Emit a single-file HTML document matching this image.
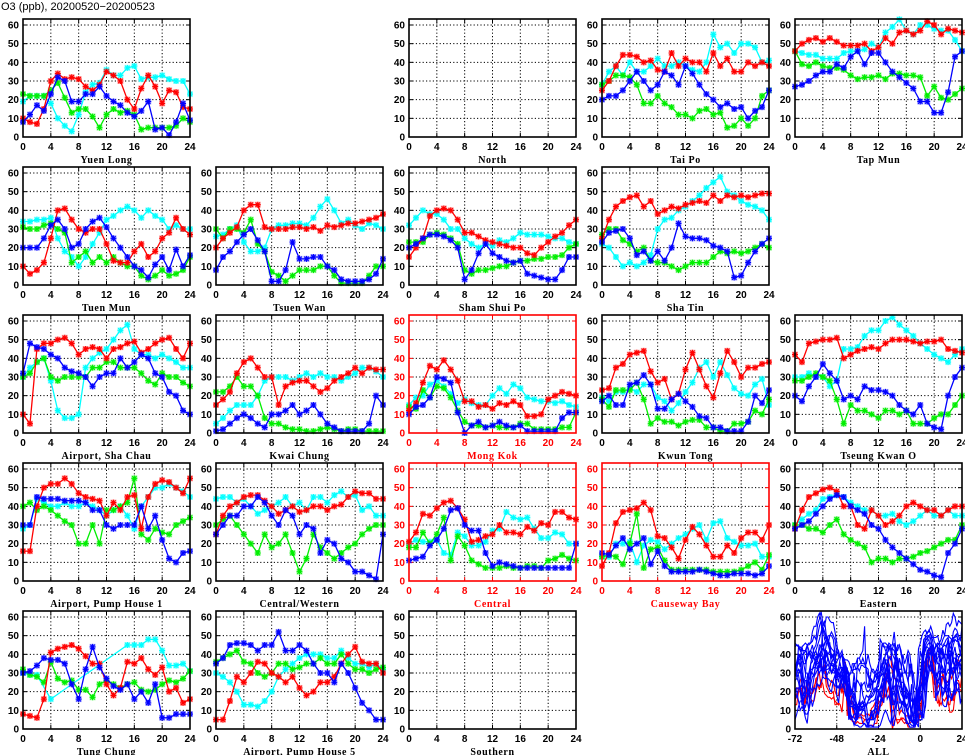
<!DOCTYPE html>
<html><head><meta charset="utf-8"><style>
html,body{margin:0;padding:0;background:#fff;}
svg{display:block;}
text{font-family:"Liberation Sans",sans-serif;}
.tk{font-size:10px;font-weight:bold;fill:#000;}
.ttl{font-family:"Liberation Serif",serif;font-size:10px;font-weight:bold;letter-spacing:0.6px;}
</style></head><body>
<svg id="c" width="965" height="755" viewBox="0 0 965 755" xmlns="http://www.w3.org/2000/svg">
<text x="1" y="10" style="font-size:11px;">O3 (ppb), 20200520−20200523</text>
</svg>
<script>
const stationNames = ["Yuen Long","North","Tai Po","Tap Mun","Tuen Mun","Tsuen Wan","Sham Shui Po","Sha Tin","Airport, Sha Chau","Kwai Chung","Mong Kok","Kwun Tong","Tseung Kwan O","Airport, Pump House 1","Central/Western","Central","Causeway Bay","Eastern","Tung Chung","Airport, Pump House 5","Southern"];
const stationCol = [0,2,3,4,0,1,2,3,0,1,2,3,4,0,1,2,3,4,0,1,2];
const stationRow = [0,0,0,0,1,1,1,1,2,2,2,2,2,3,3,3,3,3,4,4,4];
const roadside = ["Mong Kok","Central","Causeway Bay"];
const yTicks = [0,10,20,30,40,50,60];
const xTicks = [0,4,8,12,16,20,24];
const allXTicks = [-72,-48,-24,0,24];
const seriesColors = ["#00ffff","#00ee00","#ff0000","#0000ff"];
// series order per station: cyan, green, red, blue
const cyanData = {
"Yuen Long":[19,22,22,22,18,10,6,3,12,24,28,29,36,33,33,37,38,31,32,32,33,31,30,30,23],
"Tai Po":[28,35,38,33,40,35,35,38,42,38,38,40,38,36,35,40,55,48,50,45,50,50,48,40,41],
"Tap Mun":[46,45,44,44,42,42,42,45,46,46,47,50,48,56,59,63,57,55,60,60,58,57,57,52,46],
"Tuen Mun":[34,34,35,35,36,25,18,15,10,15,22,28,35,37,40,42,40,36,40,37,35,30,32,30,30],
"Tsuen Wan":[26,27,30,32,23,18,18,20,30,32,32,33,33,32,36,42,46,40,33,35,32,30,33,32,30],
"Sham Shui Po":[32,36,40,38,38,35,30,30,25,22,20,22,21,24,23,25,28,27,27,27,26,25,25,23,22],
"Sha Tin":[22,20,15,10,12,10,12,16,30,35,36,40,42,45,48,52,55,58,50,48,45,43,42,40,35],
"Airport, Sha Chau":[30,35,38,40,28,12,8,8,10,35,40,43,45,50,55,58,45,42,42,40,42,40,38,35,35],
"Kwai Chung":[5,8,12,15,15,15,20,28,30,30,30,28,30,32,30,32,30,30,28,30,32,35,35,33,30],
"Mong Kok":[15,19,20,26,28,25,21,16,18,16,15,15,20,24,21,26,24,19,18,17,17,16,17,15,14],
"Kwun Tong":[19,17,22,22,24,22,26,26,19,17,12,16,22,27,35,38,30,38,31,24,21,20,26,29,15],
"Tseung Kwan O":[30,30,32,30,30,25,28,45,45,46,52,55,55,60,62,58,55,52,48,45,42,40,38,42,45],
"Airport, Pump House 1":[28,30,44,42,40,40,42,40,40,42,40,38,35,38,40,35,28,40,45,50,50,52,50,48,45],
"Central/Western":[44,45,45,42,44,40,36,38,40,42,45,40,42,38,45,45,42,46,48,45,46,38,40,35,35],
"Central":[20,22,21,21,22,15,14,26,24,19,19,21,27,28,37,34,33,34,28,23,23,26,25,20,20],
"Causeway Bay":[13,13,20,20,21,10,19,22,21,17,20,23,25,28,30,22,31,32,23,21,19,19,20,13,13],
"Eastern":[30,33,36,38,44,45,46,45,42,40,38,38,35,35,36,32,30,32,35,38,35,35,38,35,35],
"Tung Chung":[30,29,29,null,16,null,null,null,null,null,null,null,null,null,null,45,45,45,48,48,42,34,34,35,31],
"Airport, Pump House 5":[30,28,25,20,13,13,12,15,20,28,32,35,38,40,40,40,38,38,42,38,35,35,33,35,32]
};
const greenData = {
"Yuen Long":[23,22,22,22,25,29,21,13,15,15,11,5,12,15,13,14,12,4,5,5,5,5,6,10,8],
"Tai Po":[28,30,33,33,32,28,18,18,22,18,16,12,12,10,14,15,12,13,5,6,10,6,10,22,25],
"Tap Mun":[46,39,38,40,38,37,37,36,33,31,32,32,33,31,34,34,33,33,32,22,27,21,20,23,26],
"Tuen Mun":[31,30,30,32,33,30,28,12,15,18,12,15,12,15,12,10,10,5,3,5,8,5,6,8,15],
"Tsuen Wan":[30,25,30,30,28,35,22,18,7,5,2,5,8,8,8,10,10,5,1,1,1,1,5,10,10],
"Sham Shui Po":[23,23,23,27,28,27,25,22,8,6,8,8,9,10,10,12,13,13,14,14,15,15,16,20,22],
"Sha Tin":[27,30,30,24,22,18,20,13,12,12,10,8,10,12,12,12,15,18,17,18,17,18,20,22,20],
"Airport, Sha Chau":[30,32,38,40,30,28,30,30,30,30,35,35,38,38,35,35,35,32,28,26,32,30,30,27,25],
"Kwai Chung":[22,22,25,30,25,25,20,8,5,5,3,2,2,1,1,2,3,2,1,2,2,1,1,1,1],
"Mong Kok":[14,13,23,19,25,24,19,12,6,4,4,3,4,3,3,3,5,5,2,2,2,2,3,3,11],
"Kwun Tong":[18,14,23,23,23,27,18,5,8,6,6,4,6,7,7,3,3,1,1,5,5,6,12,10,18],
"Tseung Kwan O":[28,28,30,32,30,28,18,5,15,12,12,10,8,12,12,10,12,5,5,5,8,10,10,15,20],
"Airport, Pump House 1":[40,42,38,40,38,35,32,30,20,20,30,20,38,38,40,42,55,25,22,28,26,25,30,32,34],
"Central/Western":[30,33,35,30,25,20,15,25,18,20,25,15,5,12,25,18,15,12,15,18,20,25,28,30,30],
"Central":[18,18,26,20,25,34,11,24,19,11,9,7,7,7,8,7,7,8,8,7,11,12,14,12,11],
"Causeway Bay":[13,14,13,9,20,36,7,17,18,11,6,6,6,6,6,6,5,5,5,5,6,8,10,6,14],
"Eastern":[30,30,28,28,26,30,33,25,22,20,18,10,12,12,10,12,12,13,15,16,18,20,22,22,30],
"Tung Chung":[32,29,28,25,36,27,25,26,21,21,17,24,26,24,22,24,25,21,20,21,24,26,25,27,31],
"Airport, Pump House 5":[36,38,40,42,36,35,30,28,30,35,35,32,33,35,35,38,35,35,40,35,32,32,30,32,33]
};
const redData = {
"Yuen Long":[10,8,7,15,30,34,31,32,31,27,25,28,35,33,30,20,15,26,33,27,18,25,24,16,15],
"Tai Po":[25,30,38,44,44,43,40,41,36,35,45,38,42,40,40,35,45,38,42,35,35,40,38,40,38],
"Tap Mun":[46,50,52,53,51,53,51,49,49,49,50,46,48,53,50,56,57,55,57,62,60,55,58,57,56],
"Tuen Mun":[10,6,8,12,25,40,41,35,30,28,30,30,22,13,12,12,18,22,15,18,25,28,36,30,27],
"Tsuen Wan":[20,25,28,31,40,43,43,31,30,30,30,31,31,30,31,29,32,31,32,33,33,34,35,36,38],
"Sham Shui Po":[15,20,25,37,40,41,40,35,28,28,26,24,23,22,21,20,20,17,16,20,23,26,28,32,35],
"Sha Tin":[25,35,42,45,47,48,42,45,38,40,42,41,43,44,45,44,48,45,48,47,48,47,48,49,49],
"Airport, Sha Chau":[10,5,45,48,48,50,51,48,42,45,46,45,40,45,46,48,49,43,45,48,50,51,45,40,48],
"Kwai Chung":[15,18,22,32,38,40,35,30,30,15,25,27,28,28,25,22,24,28,30,32,35,32,35,34,34],
"Mong Kok":[12,16,27,36,34,39,34,28,17,17,14,15,13,16,15,17,15,9,9,10,18,20,22,21,20],
"Kwun Tong":[23,24,35,37,42,43,44,33,27,29,18,21,34,43,34,25,19,32,44,38,30,35,35,37,38],
"Tseung Kwan O":[42,38,48,49,50,50,51,40,42,44,45,46,45,48,50,50,50,49,48,49,49,50,45,44,43],
"Airport, Pump House 1":[16,16,40,50,52,52,55,52,47,45,44,43,35,42,38,45,46,28,45,52,54,53,50,47,55],
"Central/Western":[25,35,40,42,45,46,46,43,40,36,38,40,37,38,40,40,38,40,41,45,48,47,47,44,44],
"Central":[21,26,36,35,39,42,43,39,33,21,22,24,25,30,26,26,25,29,27,31,30,37,37,34,33],
"Causeway Bay":[8,15,31,37,38,39,42,38,24,23,18,12,22,29,25,19,13,13,19,15,23,26,26,22,30],
"Eastern":[28,38,45,47,49,50,48,40,40,30,28,38,35,30,32,35,40,42,40,38,38,35,38,40,40],
"Tung Chung":[8,7,6,16,41,43,44,45,43,39,35,35,24,18,22,36,35,38,32,29,33,20,22,14,16],
"Airport, Pump House 5":[5,5,15,28,25,30,36,35,30,28,25,28,22,18,20,25,25,28,35,40,44,36,35,35,30]
};
const blueData = {
"Yuen Long":[8,12,17,14,23,32,30,19,19,23,23,27,22,19,17,13,11,14,19,4,5,1,8,18,9],
"Tai Po":[20,22,22,25,30,35,30,25,28,35,33,28,38,34,28,23,20,16,18,15,16,10,14,16,25],
"Tap Mun":[27,28,30,33,35,35,39,37,43,46,39,45,45,40,35,32,29,26,19,19,13,13,24,43,46],
"Tuen Mun":[20,20,20,25,32,35,30,20,22,30,34,36,31,25,20,15,10,8,4,11,15,8,19,10,16],
"Tsuen Wan":[8,15,18,23,27,30,24,18,2,2,8,23,14,14,15,15,10,8,3,2,2,2,3,6,14],
"Sham Shui Po":[20,22,25,27,27,26,24,20,3,8,17,22,17,15,13,12,13,6,5,4,3,3,8,15,15],
"Sha Tin":[23,28,29,30,25,16,18,13,18,13,20,33,26,25,25,24,21,20,18,4,5,12,18,22,25],
"Airport, Sha Chau":[32,48,46,45,42,40,35,33,32,30,25,30,32,32,40,35,38,42,40,32,30,22,20,12,10],
"Kwai Chung":[1,2,5,8,10,8,5,3,10,10,12,15,10,12,15,10,5,3,1,1,1,1,5,20,15],
"Mong Kok":[10,14,15,19,30,29,27,11,0,4,6,3,4,6,4,3,4,1,1,1,1,1,8,11,11],
"Kwun Tong":[17,20,15,15,26,27,31,26,13,13,18,21,17,14,9,8,3,3,1,1,1,6,20,16,23],
"Tseung Kwan O":[20,17,25,30,37,32,28,18,20,18,25,23,23,22,20,15,12,10,15,5,3,2,20,30,35],
"Airport, Pump House 1":[30,30,45,44,44,44,43,43,43,42,38,38,30,28,30,30,30,40,28,35,22,12,10,15,16],
"Central/Western":[25,30,35,35,40,40,45,42,35,30,38,35,25,30,28,15,22,20,12,10,5,5,3,1,25],
"Central":[11,12,13,19,22,28,38,39,30,27,27,15,8,10,9,8,7,7,7,7,7,7,7,7,20],
"Causeway Bay":[15,14,19,23,17,20,23,9,16,8,5,5,5,5,6,5,4,3,3,4,4,4,3,4,8],
"Eastern":[28,30,32,36,40,44,46,45,40,38,36,30,28,22,18,15,12,9,6,5,3,2,15,20,28],
"Tung Chung":[30,31,34,38,37,37,35,24,16,32,44,33,27,23,21,24,16,20,14,24,6,6,8,8,8],
"Airport, Pump House 5":[35,38,45,46,46,45,42,45,45,52,42,42,45,42,35,30,30,25,35,30,22,14,10,5,5]
};
</script>
<script>
const NS="http://www.w3.org/2000/svg";
const svg=document.getElementById('c');
const colLeft=[23,216,409,602,795], PW=167;
const rowZero=[137,285,433,581,729], PPU=112/60;
function mk(tag,attrs,parent){const e=document.createElementNS(NS,tag);for(const k in attrs)e.setAttribute(k,attrs[k]);(parent||svg).appendChild(e);return e;}
function slug(s){return s.toLowerCase().replace(/[^a-z0-9]+/g,'-').replace(/^-|-$/g,'');}

function drawFrame(g,L,Z,xmin,xmax,ticksX,color,name){
  const T=Z-118, R=L+PW;
  const sx=v=>L+(v-xmin)/(xmax-xmin)*PW, sy=v=>Z-v*PPU;
  yTicks.forEach(v=>{
    if(v>0){const gl=mk('line',{x1:L,x2:R,y1:sy(v),y2:sy(v),stroke:'#000','stroke-width':1,'stroke-dasharray':'1.2,2.2'},g);
    }
    const t=mk('text',{x:L-4,y:sy(v)+3.5,'text-anchor':'end',class:'tk',fill:color},g);
    
    t.textContent=v;t.style.fill=color;
    mk('line',{x1:L,x2:L+4,y1:sy(v),y2:sy(v),stroke:color,'stroke-width':1},g);
    mk('line',{x1:R,x2:R-4,y1:sy(v),y2:sy(v),stroke:color,'stroke-width':1},g);
  });
  ticksX.forEach((v,i)=>{
    if(i>0&&i<ticksX.length-1){const gl=mk('line',{x1:sx(v),x2:sx(v),y1:T,y2:Z,stroke:'#000','stroke-width':1,'stroke-dasharray':'1.2,2.2'},g);
    }
    const t=mk('text',{x:sx(v),y:Z+13,'text-anchor':'middle',class:'tk'},g);
    
    t.textContent=v;t.style.fill=color;
    mk('line',{x1:sx(v),x2:sx(v),y1:Z,y2:Z-4,stroke:color,'stroke-width':1},g);
    mk('line',{x1:sx(v),x2:sx(v),y1:T,y2:T+4,stroke:color,'stroke-width':1},g);
  });
  const tt=mk('text',{x:L+PW/2,y:Z+26,'text-anchor':'middle',class:'ttl'},g);
  
  tt.textContent=name;tt.style.fill=color;
  return {sx,sy,T,R};
}
function drawFrameRect(g,L,T,Z,color){
  const f=mk('rect',{x:L,y:T,width:PW,height:Z-T,fill:'none',stroke:color,'stroke-width':1.6},g);
  
}

stationNames.forEach((name,si)=>{
  const L=colLeft[stationCol[si]], Z=rowZero[stationRow[si]];
  const color=roadside.includes(name)?'#ff0000':'#000';
  const g=mk('g',{});
  
  
  const {sx,sy,T}=drawFrame(g,L,Z,0,24,xTicks,color,name);
  const sets=[cyanData[name],greenData[name],redData[name],blueData[name]];
  const snames=['series-cyan','series-green','series-red','series-blue'];
  sets.forEach((arr,k)=>{
    if(!arr)return;
    const c=seriesColors[k];
    const sg=mk('g',{},g);
    
    
    let d='';arr.forEach((v,h)=>{if(v==null)return;d+=(d?'L':'M')+sx(h).toFixed(1)+','+sy(v).toFixed(1);});
    mk('path',{d,fill:'none',stroke:c,'stroke-width':1.3},sg);
    arr.forEach((v,h)=>{
      if(v==null)return;const x=sx(h),y=sy(v);
      const m=mk('g',{},sg);
      
      
      mk('rect',{x:x-3,y:y-3,width:6,height:6,fill:c,opacity:0.35},m);
      mk('path',{d:`M${x-3},${y}H${x+3}M${x},${y-3}V${y+3}M${x-2.2},${y-2.2}L${x+2.2},${y+2.2}M${x-2.2},${y+2.2}L${x+2.2},${y-2.2}`,stroke:c,'stroke-width':1.1},m);
    });
  });
  drawFrameRect(g,L,T,Z,color);
});

// ALL panel
(function(){
  const L=colLeft[4], Z=rowZero[4];
  const g=mk('g',{});
  
  
  const {sx,sy,T}=drawFrame(g,L,Z,-72,24,allXTicks,'#000','ALL');
  mk('clipPath',{id:'clipAll'},g).appendChild(Object.assign(document.createElementNS(NS,'rect'),{}));
  const cr=g.querySelector('#clipAll rect');
  cr.setAttribute('x',L);cr.setAttribute('y',T);cr.setAttribute('width',PW);cr.setAttribute('height',Z-T);
  const lg=mk('g',{'clip-path':'url(#clipAll)'},g);
  const order=stationNames.filter(n=>blueData[n]);
  const drawOne=(n)=>{
    const days=[cyanData[n],greenData[n],blueData[n],redData[n]];
    let d='',h=-72;
    days.forEach((arr,di)=>{
      const n2=di<3?24:25;
      for(let i=0;i<n2;i++){const v=arr[i];if(v!=null)d+=(d?'L':'M')+sx(h+i).toFixed(1)+','+sy(v).toFixed(1);}
      h+=24;
    });
    const p=mk('path',{d,fill:'none',stroke:roadside.includes(n)?'#ff0000':'#0000ff','stroke-width':1.1},lg);
    
    
  };
  order.filter(n=>roadside.includes(n)).forEach(drawOne);
  order.filter(n=>!roadside.includes(n)).forEach(drawOne);
  drawFrameRect(g,L,T,Z,'#000');
})();
</script>
</body></html>
